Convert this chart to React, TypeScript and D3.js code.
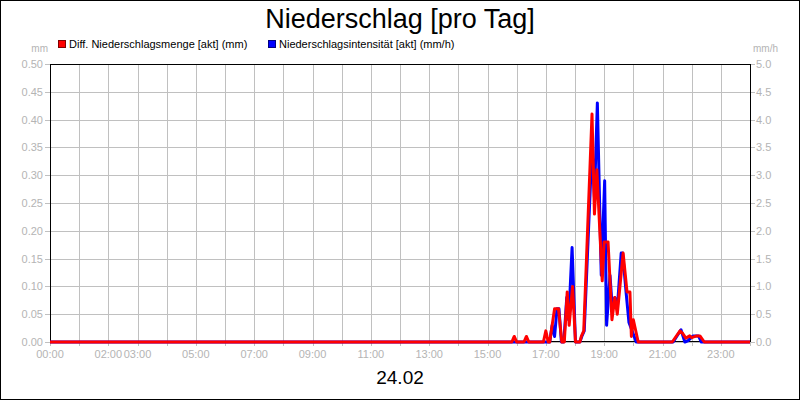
import React from 'react';
import * as d3 from 'd3';

// Diff. Niederschlagsmenge [akt] (mm) – left axis
const redTimes = [
  '00:00', '15:50', '15:55', '16:00', '16:15', '16:20', '16:25', '16:55', '17:00', '17:05',
  '17:08', '17:18', '17:26', '17:33', '17:38', '17:44', '17:48', '17:55', '18:01', '18:10',
  '18:13', '18:18', '18:35', '18:40', '18:45', '18:56', '19:00', '19:08', '19:16', '19:22',
  '19:27', '19:39', '19:47', '19:53', '19:56', '20:00', '20:10', '21:20', '21:36', '21:41',
  '21:48', '21:56', '22:00', '22:10', '22:17', '22:26', '24:00',
];
const redValues = [
  0, 0, 0.01, 0, 0, 0.01, 0, 0, 0.02, 0,
  0, 0.06, 0.06, 0, 0, 0.09, 0.03, 0.1, 0, 0,
  0.01, 0.02, 0.41, 0.23, 0.31, 0.11, 0.18, 0.18, 0.04, 0.08,
  0.05, 0.16, 0.09, 0.09, 0.01, 0.04, 0, 0, 0.02, 0.016,
  0.007, 0.011, 0.008, 0.011, 0.011, 0, 0,
];

// Niederschlagsintensität [akt] (mm/h) – right axis
const blueTimes = [
  '00:00', '17:08', '17:13', '17:18', '17:23', '17:27', '17:32', '17:37', '17:43', '17:47',
  '17:54', '18:01', '18:10', '18:14', '18:19', '18:35', '18:40', '18:46', '18:54', '19:01',
  '19:05', '19:12', '19:16', '19:22', '19:27', '19:35', '19:38', '19:45', '19:51', '20:06',
  '21:22', '21:38', '21:46', '21:52', '22:03', '22:14', '22:20', '24:00',
];
const blueValues = [
  0, 0, 0.3, 0.1, 0.6, 0.6, 0, 0, 0.8, 0.4,
  1.7, 0, 0, 0.1, 0.2, 3.5, 2.6, 4.3, 1.2, 2.9,
  0.3, 1.2, 0.7, 0.8, 0.6, 1.6, 1.6, 0.9, 0.35, 0,
  0, 0.22, 0, 0.02, 0.11, 0.11, 0, 0,
];

const xLabels = ['00:00', '02:00', '03:00', '05:00', '07:00', '09:00', '11:00', '13:00', '15:00', '17:00', '19:00', '21:00', '23:00'];

const W = 800;
const H = 400;
const plot = { left: 50, right: 750, top: 64, bottom: 342 };
const FONT = 'Liberation Sans, Arial, sans-serif';
const GRID = '#c0c0c0';
const LABEL = '#b4b4b4';

const toMin = (s: string) => {
  const [h, m] = s.split(':').map(Number);
  return h * 60 + m;
};

const App: React.FC = () => {
  const x = d3.scaleLinear().domain([0, 1440]).range([plot.left, plot.right]);
  const yL = d3.scaleLinear().domain([0, 0.5]).range([plot.bottom, plot.top]);
  const yR = d3.scaleLinear().domain([0, 5]).range([plot.bottom, plot.top]);

  const hours = d3.range(0, 25).map((h) => h * 60);
  const crisp = (v: number) => Math.round(v) + 0.5;

  const redLine = d3
    .line<number>()
    .x((_, i) => x(toMin(redTimes[i])))
    .y((d) => yL(d));
  const blueLine = d3
    .line<number>()
    .x((_, i) => x(toMin(blueTimes[i])))
    .y((d) => yR(d));

  return (
    <svg width={W} height={H} style={{ position: 'absolute', left: 0, top: 0, background: '#fff' }} fontFamily={FONT}>
      <rect x={0.5} y={0.5} width={W - 1} height={H - 1} fill="#fff" stroke="#000" />

      <text x={400} y={28} textAnchor="middle" fontSize={27} fill="#000">
        Niederschlag [pro Tag]
      </text>

      {/* legend */}
      <rect x={58.5} y={40.5} width={7} height={7} fill="#ff0000" stroke="#800000" />
      <text x={69} y={48} fontSize={11} fill="#000">Diff. Niederschlagsmenge [akt] (mm)</text>
      <rect x={268.5} y={40.5} width={7} height={7} fill="#0000ff" stroke="#000080" />
      <text x={279} y={48} fontSize={11} fill="#000">Niederschlagsintensität [akt] (mm/h)</text>

      <text x={48} y={52} textAnchor="end" fontSize={10} fill={LABEL}>mm</text>
      <text x={753} y={52} fontSize={10} fill={LABEL}>mm/h</text>

      {/* grid */}
      <g shapeRendering="crispEdges">
        {hours.map((t) => (
          <line key={'v' + t} x1={crisp(x(t))} x2={crisp(x(t))} y1={plot.top} y2={plot.bottom + 4} stroke={GRID} />
        ))}
        {yL.ticks(10).map((v) => (
          <line key={'h' + v} x1={plot.left - 5} x2={plot.right + 5} y1={crisp(yL(v))} y2={crisp(yL(v))} stroke={GRID} />
        ))}
      </g>

      {/* left axis labels */}
      {yL.ticks(10).map((v) => (
        <text key={'l' + v} x={43} y={yL(v) + 4} textAnchor="end" fontSize={11} fill={LABEL}>
          {d3.format('.2f')(v)}
        </text>
      ))}
      {/* right axis labels */}
      {yR.ticks(10).map((v) => (
        <text key={'r' + v} x={756} y={yR(v) + 4} fontSize={11} fill={LABEL}>
          {d3.format('.1f')(v)}
        </text>
      ))}
      {/* x axis labels */}
      {xLabels.map((s) => (
        <text key={s} x={x(toMin(s))} y={358} textAnchor="middle" fontSize={11} fill={LABEL}>
          {s}
        </text>
      ))}

      {/* frame */}
      <rect
        x={plot.left + 0.5}
        y={plot.top + 0.5}
        width={plot.right - plot.left}
        height={plot.bottom - plot.top - 1}
        fill="none"
        stroke="#000"
        shapeRendering="crispEdges"
      />

      <path d={blueLine(blueValues) ?? ''} fill="none" stroke="#0000ff" strokeWidth={3} strokeLinejoin="round" />
      <path d={redLine(redValues) ?? ''} fill="none" stroke="#ff0000" strokeWidth={3} strokeLinejoin="round" />

      <text x={400} y={384} textAnchor="middle" fontSize={19} fill="#000">
        24.02
      </text>
    </svg>
  );
};

export default App;
